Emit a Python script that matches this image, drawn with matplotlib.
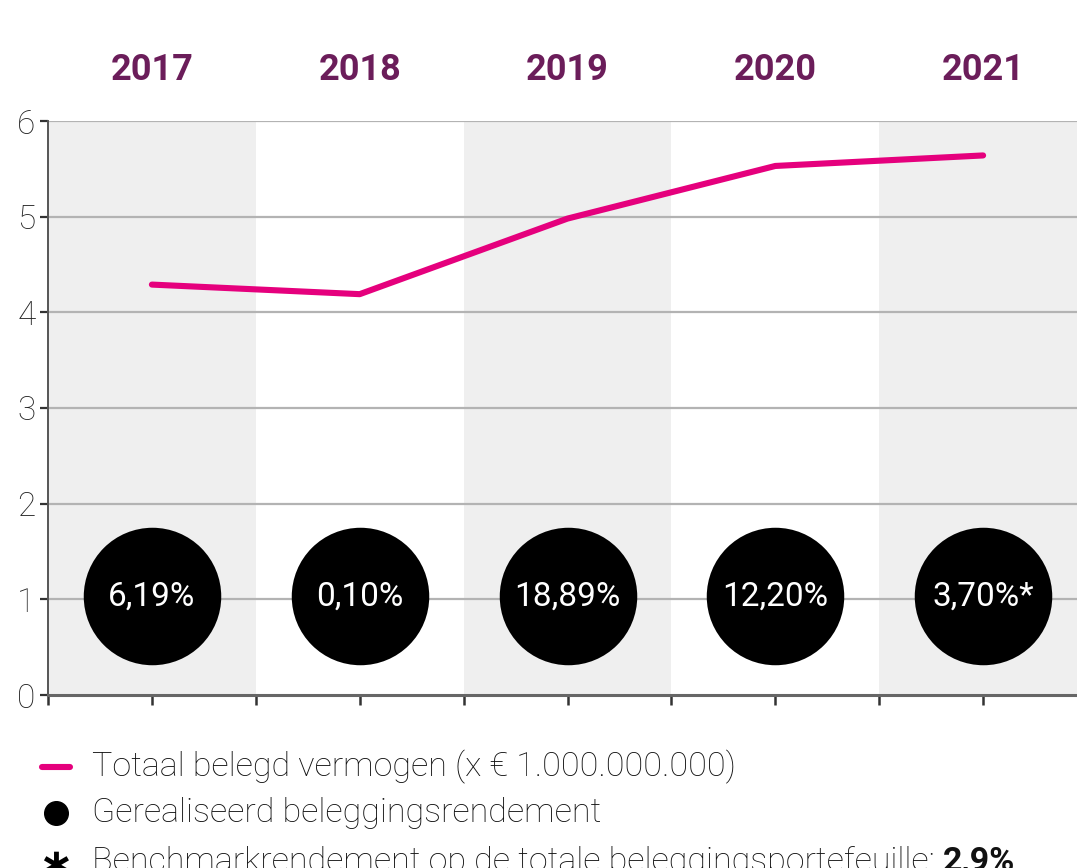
import matplotlib
matplotlib.use("Agg")
import matplotlib.pyplot as plt
from matplotlib.lines import Line2D
from matplotlib.transforms import blended_transform_factory

# data
jaren = ["2017", "2018", "2019", "2020", "2021"]
vermogen = [4.29, 4.19, 4.98, 5.53, 5.64]
rendement = ["6,19%", "0,10%", "18,89%", "12,20%", "3,70%*"]
bol_hoogte = [1.03, 1.03, 1.03, 1.03, 1.03]
y_ticks = [0, 1, 2, 3, 4, 5, 6]

roze = "#e5007d"
paars = "#6b1d5a"
font = ["Roboto", "DejaVu Sans"]

plt.rcParams["font.family"] = font

fig = plt.figure(figsize=(10.77, 8.68), dpi=100)
ax = fig.add_axes([48 / 1077, 173 / 868, 1039 / 1077, 574 / 868])

# grijze banden
for i in range(len(jaren)):
    if i % 2 == 0:
        ax.axvspan(i - 0.5, i + 0.5, color="#efefef", lw=0, zorder=0)

for y in y_ticks[1:]:
    ax.axhline(y, color="#b3b3b3", lw=1.6, zorder=1)

x = list(range(len(jaren)))
ax.plot(x, vermogen, color=roze, lw=4.4, solid_capstyle="round", zorder=3)
ax.scatter(x, bol_hoogte, s=9800, color="black", zorder=4, linewidths=0)
for i, t in enumerate(rendement):
    ax.text(i, bol_hoogte[i], t, color="white", fontsize=24, ha="center",
            va="center", zorder=5)

ax.set_xlim(-0.5, 4.5)
ax.set_ylim(0, 6)
ax.set_yticks(y_ticks)
ax.set_xticks([i * 0.5 - 0.5 for i in range(11)])
ax.set_xticklabels([])
ax.tick_params(axis="y", length=6, width=1.6, color="#333333", labelsize=24,
               pad=3, labelcolor="#222222")
ax.tick_params(axis="x", length=7, width=1.8, color="#333333")
for lab in ax.get_yticklabels():
    lab.set_fontweight("light")
for s in ["top", "right"]:
    ax.spines[s].set_visible(False)
ax.spines["left"].set_color("#555555")
ax.spines["left"].set_linewidth(1.4)
ax.spines["bottom"].set_color("#666666")
ax.spines["bottom"].set_linewidth(2.2)

# jaartallen boven
trans = blended_transform_factory(ax.transData, fig.transFigure)
for i, j in enumerate(jaren):
    ax.text(i, (868 - 70) / 868, j, transform=trans, color=paars, fontsize=26,
            fontweight="bold", ha="center", va="center")

# legenda
def fy(py):
    return (868 - py) / 868

fig.add_artist(Line2D([42 / 1077, 70 / 1077], [fy(767), fy(767)], color=roze, lw=4.4,
                      solid_capstyle="round"))
fig.add_artist(Line2D([56 / 1077], [fy(813)], marker="o", ms=17, color="black", lw=0))
fig.text(55 / 1077, fy(866), "∗", fontsize=30, fontweight="bold", ha="center",
         va="center", family=["DejaVu Sans"])

tx = 92 / 1077
fig.text(tx, fy(767), "Totaal belegd vermogen (x € 1.000.000.000)", fontsize=24.5,
         va="center", fontweight="light", color="#111111")
fig.text(tx, fy(813), "Gerealiseerd beleggingsrendement", fontsize=24.5,
         va="center", fontweight="light", color="#111111")
t3 = fig.text(tx, fy(862), "Benchmarkrendement op de totale beleggingsportefeuille: ",
              fontsize=24.5, va="center", fontweight="light", color="#111111")
fig.canvas.draw()
bb = t3.get_window_extent()
fig.text(bb.x1 / fig.bbox.width, fy(862), "2,9%", fontsize=24.5, va="center",
         fontweight="bold", color="#111111")

fig.savefig("out.png", dpi=100)
